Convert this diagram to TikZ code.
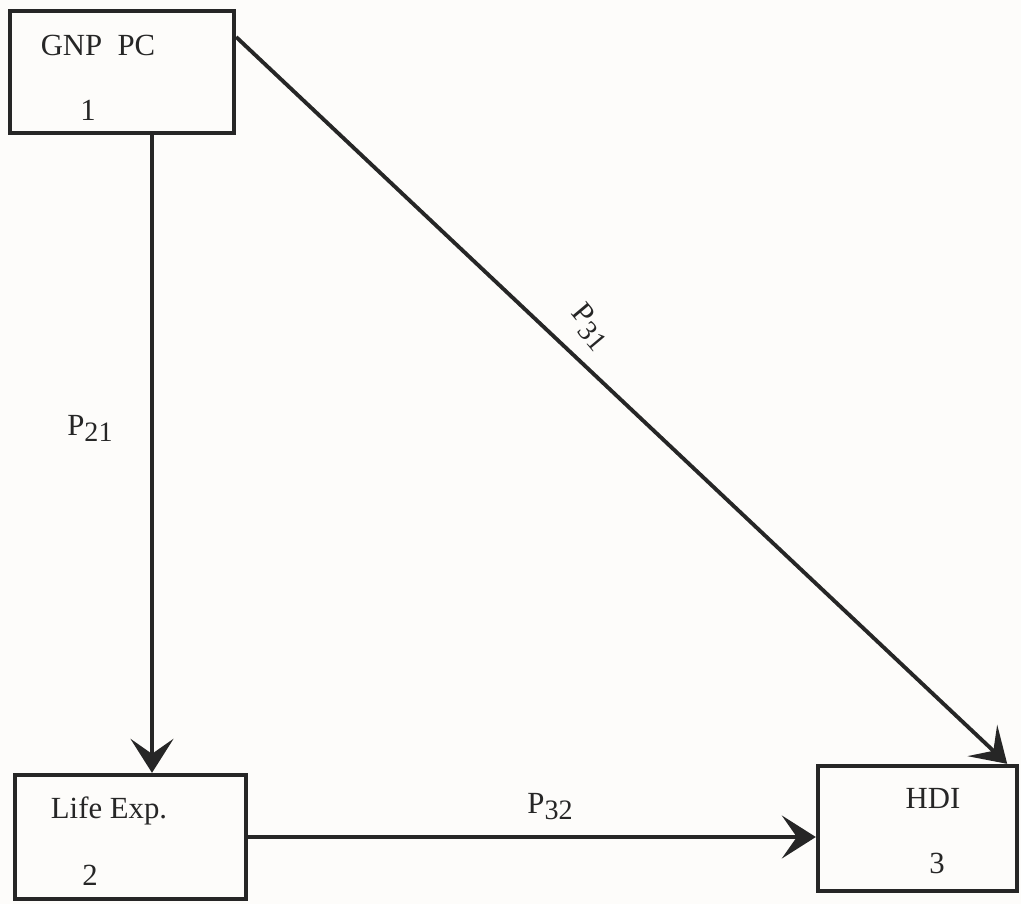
\documentclass[tikz,border=0pt]{standalone}
\usepackage{fontspec}
\setmainfont{Liberation Serif}
\usetikzlibrary{arrows.meta}
\definecolor{inkgray}{HTML}{262626}
\definecolor{paper}{HTML}{FDFCFA}
\tikzset{
  factor/.style={draw=inkgray,line width=2.5pt,fill=paper},
  tag/.style={text=inkgray,font=\fontsize{17.5}{20}\selectfont,inner sep=0pt,anchor=base},
  link/.style={draw=inkgray,line width=2.2pt,
    -{Stealth[length=0.68cm,width=0.86cm,inset=0.3cm]}}
}
\newcommand{\lowidx}[1]{\raisebox{-0.22em}{\fontsize{16}{16}\selectfont #1}}

\begin{document}
\begin{tikzpicture}[x=0.02cm,y=-0.02cm]
  \fill[paper] (0,0) rectangle (1021,904);
  \useasboundingbox (0,0) rectangle (1021,904);
  % boxes
  \node[factor,minimum width=4.48cm,minimum height=2.44cm] (gnp) at (122,72) {};
  \node[factor,minimum width=4.62cm,minimum height=2.48cm] (life) at (130.5,837) {};
  \node[factor,minimum width=3.98cm,minimum height=2.5cm] (hdi) at (917.5,828.5) {};
  \node[tag] (gnp name) at (98,55) {GNP\ \ PC};
  \node[tag] (gnp no) at (88,120) {1};
  \node[tag] (life name) at (109,818) {Life Exp.};
  \node[tag] (life no) at (90,885) {2};
  \node[tag] (hdi name) at (933,808) {HDI};
  \node[tag] (hdi no) at (937,873) {3};
  % paths
  \draw[link] ([xshift=0.6cm]gnp.south) -- ([xshift=0.6cm]gnp.south |- life.north);
  \draw[link] ([yshift=0.7cm]gnp.east) -- ([xshift=-0.24cm]hdi.north east);
  \draw[link] (life.east) -- (life.east -| hdi.west);
  \node[tag] (p21) at (90,435) {P\lowidx{21}};
  \node[tag,anchor=center,rotate=-50] (p31) at (590,327) {P\lowidx{31}};
  \node[tag] (p32) at (550,813) {P\lowidx{32}};
\end{tikzpicture}
\end{document}
